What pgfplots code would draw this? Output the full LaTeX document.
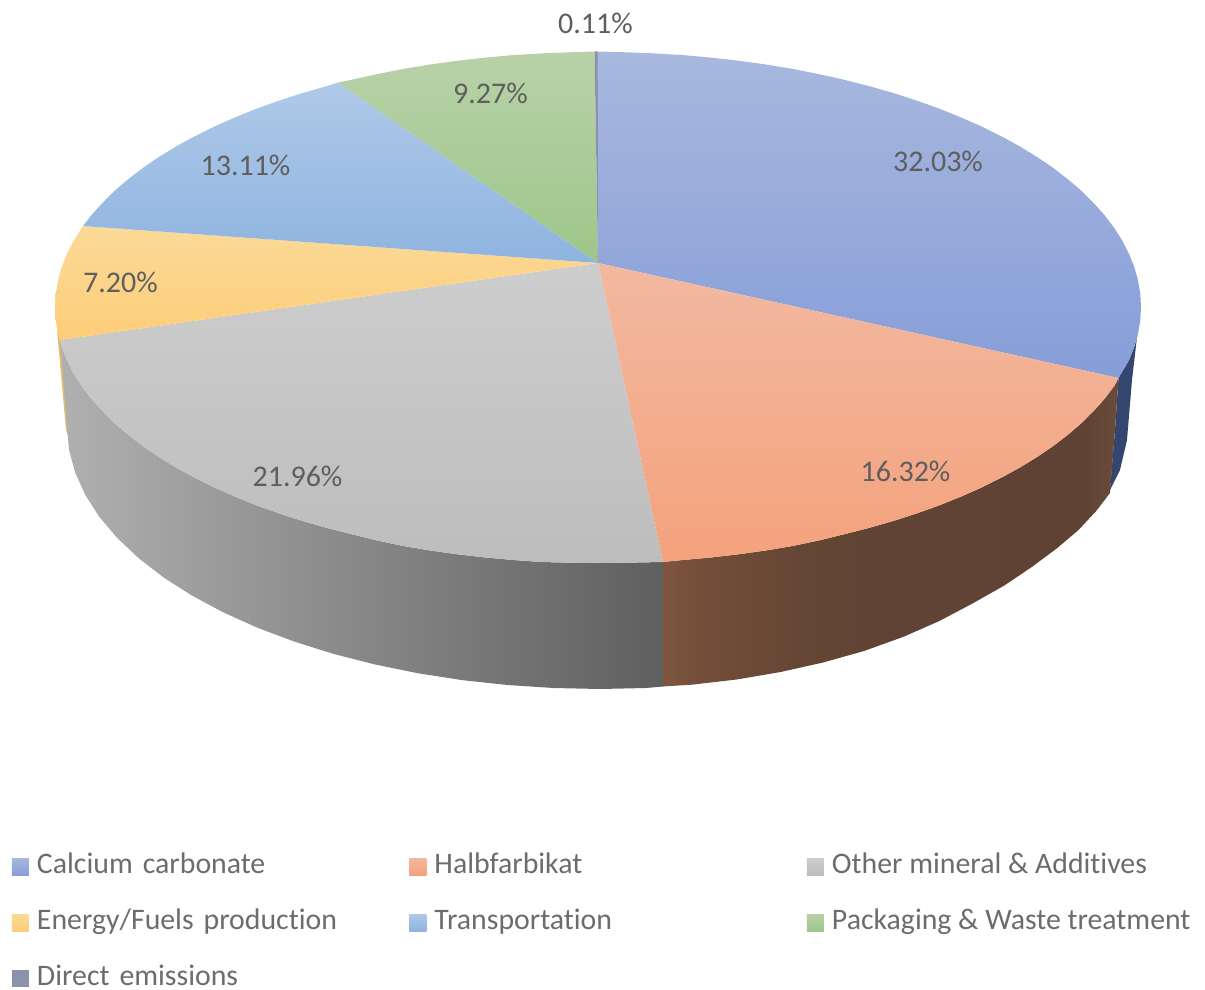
\documentclass[border=0pt]{standalone}
\usepackage{fontspec}
\setmainfont{Carlito}[Ligatures=NoCommon]
\usepackage{pgfplots}
\pgfplotsset{compat=1.18}
\definecolor{cCal}{HTML}{97A9DB}
\definecolor{cHal}{HTML}{F4AE8F}
\definecolor{cOth}{HTML}{C6C6C6}
\definecolor{cEne}{HTML}{FCD387}
\definecolor{cTra}{HTML}{9DBEE4}
\definecolor{cPac}{HTML}{A5CB93}
\definecolor{cDir}{HTML}{8A93AB}
\definecolor{cLab}{HTML}{5E5E5E}
\definecolor{cLeg}{HTML}{6C6C6C}
\definecolor{calT}{HTML}{A8B8DE}\definecolor{calB}{HTML}{869DD8}
\definecolor{halT}{HTML}{F2B9A1}\definecolor{halB}{HTML}{F4A27C}
\definecolor{othT}{HTML}{CDCDCD}\definecolor{othB}{HTML}{BDBDBD}
\definecolor{eneT}{HTML}{FBDA98}\definecolor{eneB}{HTML}{FDCD78}
\definecolor{traT}{HTML}{AFC9E8}\definecolor{traB}{HTML}{8FB4E0}
\definecolor{pacT}{HTML}{B8D2A8}\definecolor{pacB}{HTML}{9DC68A}
\pgfdeclarehorizontalshading{brownside}{100bp}{
  rgb(0bp)=(0.502,0.337,0.247);
  rgb(25bp)=(0.502,0.337,0.247);
  rgb(29bp)=(0.455,0.306,0.224);
  rgb(40bp)=(0.396,0.275,0.204);
  rgb(51bp)=(0.376,0.263,0.208);
  rgb(71bp)=(0.373,0.259,0.200);
  rgb(75bp)=(0.416,0.298,0.231);
  rgb(100bp)=(0.416,0.298,0.231)}
\pgfdeclarehorizontalshading{greyside}{100bp}{
  rgb(0bp)=(0.690,0.690,0.690);
  rgb(25bp)=(0.690,0.690,0.690);
  rgb(30bp)=(0.660,0.660,0.660);
  rgb(50bp)=(0.530,0.530,0.530);
  rgb(75bp)=(0.373,0.373,0.373);
  rgb(100bp)=(0.373,0.373,0.373)}
\newcommand{\sq}[1]{\fill[#1] (0pt,-8.5pt) rectangle (17pt,8.5pt);}
\begin{document}
\begin{tikzpicture}
\path[use as bounding box] (0,0) rectangle (1205pt,990pt);
\begin{axis}[
  at={(0,0)}, anchor=south west,
  width=1205pt, height=990pt, scale only axis,
  hide axis, xmin=0, xmax=1205, ymin=0, ymax=990, y dir=reverse,
  clip=false,
  legend columns=3,
  legend cell align=left,
  legend style={
    draw=none, fill=none, at={(axis cs:12,853)}, anchor=north west,
    inner sep=0pt, outer sep=0pt,
    font=\fontsize{29.8}{32}\selectfont, text=cLeg,
    row sep=29pt,
    /tikz/every even column/.append style={column sep=0pt},
    nodes={inner sep=0pt, outer sep=0pt, text height=20pt, text depth=7pt},
    /tikz/column 1/.style={column sep=8pt},
    /tikz/column 3/.style={column sep=8pt},
    /tikz/column 5/.style={column sep=8pt},
    /tikz/column 2/.append style={nodes={text width=372.5pt}},
    /tikz/column 4/.append style={nodes={text width=372.5pt}},
  },
]
% side walls
\addplot[forget plot, draw=none, fill={rgb,255:red,226;green,190;blue,110}] coordinates {(57,330) (61,340) (69,438) (66,430) (57,330)};
\addplot[forget plot, draw=none, fill={rgb,255:red,52;green,70;blue,111}] coordinates {
 (1118.5,378) (1129.1,360) (1134.3,346.9) (1138,334) (1137,337) (1132,380) (1127,440) (1120,470) (1110,490) (1115,430) (1118.5,378)};
\addplot[forget plot, draw=none, shade, shading=brownside] coordinates {
 (662,562) (682.9,560) (710.9,557.5) (738.5,554.3) (765.8,550.5) (792.6,546) (818.8,540.5) (844.5,534.2) (869.5,527.8) (893.7,520.9) (917.2,513.3)
 (939.7,505.2) (961.3,496.5) (982,487.3) (1001.5,477.6) (1020,467.5) (1037.3,456.9) (1053.4,445.9) (1068.2,434.5) (1081.8,422.8) (1094,410.7)
 (1104.9,398.4) (1114.4,385.8) (1118.5,378) (1115,430) (1110,493)
 (1096.2,511) (1078.5,530) (1057.3,548) (1032.5,566.5) (1004.5,585.4) (973.4,603) (939.4,621) (902.9,637) (864,651) (823.1,662.5)
 (780.6,672) (736.7,679.5) (691.7,684.7) (662,686.5) (662,562)};
\addplot[forget plot, draw=none, shade, shading=greyside] coordinates {
 (60,340) (61.7,346.9) (66.9,360) (73.5,373) (81.6,385.8) (91.1,398.4) (102,410.7) (114.2,422.8) (127.8,434.5) (142.6,445.9) (158.7,456.9)
 (176,467.5) (194.5,477.6) (214,487.3) (234.7,496.5) (256.3,505.2) (278.8,513.3) (302.3,520.9) (326.5,527.8) (351.5,534.2) (377.2,540.5)
 (403.4,546) (430.2,550.5) (457.5,554.3) (485.1,557.5) (513.1,560) (541.3,562) (569.6,562.7) (598,563) (626.4,562.7) (663,562)
 (663,686.5) (646,688) (600,689) (553.5,688) (507.4,685) (462,680.1) (417.7,673.2) (374.7,664.4) (333.5,653.9) (294.3,641.6) (257.4,627.7)
 (223.1,612.3) (191.7,595.4) (163.4,577.3) (138.4,558) (117,537.7) (99.1,516.6) (85.2,494.8) (75.1,472.5) (69,449.8) (67,427) (60,340)};
% top slices
\addplot[draw=none, shade, top color=calT, bottom color=calB, legend image code/.code={\sq{cCal}}] coordinates {
 (598,263) (597.7,51.5) (626.4,52.3) (654.7,53.4) (682.9,55.1) (710.9,57.6) (738.5,60.7) (765.8,64.5) (792.6,68.9) (818.8,74.1) (844.5,79.8)
 (869.5,86.2) (893.7,93.1) (917.2,100.7) (939.7,108.8) (961.3,117.5) (982,126.7) (1001.5,136.4) (1020,146.5) (1037.3,157.1) (1053.4,168.1)
 (1068.2,179.5) (1081.8,191.2) (1094,203.3) (1104.9,215.6) (1114.4,228.2) (1122.5,241) (1129.1,254) (1134.3,267.1) (1138,280.4) (1140.3,293.7)
 (1141,307) (1140.3,320.3) (1138,333.6) (1134.3,346.9) (1129.1,360) (1118.5,378) (598,263)};
\addlegendentry{Calcium carbonate}
\addplot[draw=none, shade, top color=halT, bottom color=halB, legend image code/.code={\sq{cHal}}] coordinates {
 (598,263) (1118.5,378) (1114.4,385.8) (1104.9,398.4) (1094,410.7) (1081.8,422.8) (1068.2,434.5) (1053.4,445.9) (1037.3,456.9) (1020,467.5)
 (1001.5,477.6) (982,487.3) (961.3,496.5) (939.7,505.2) (917.2,513.3) (893.7,520.9) (869.5,527.8) (844.5,534.2) (818.8,540.5) (792.6,546)
 (765.8,550.5) (738.5,554.3) (710.9,557.5) (682.9,560) (663,562) (598,263)};
\addlegendentry{Halbfarbikat}
\addplot[draw=none, shade, top color=othT, bottom color=othB, legend image code/.code={\sq{cOth}}] coordinates {
 (598,263) (663,562) (626.4,562.7) (598,563) (569.6,562.7) (541.3,562) (513.1,560) (485.1,557.5) (457.5,554.3) (430.2,550.5) (403.4,546)
 (377.2,540.5) (351.5,534.2) (326.5,527.8) (302.3,520.9) (278.8,513.3) (256.3,505.2) (234.7,496.5) (214,487.3) (194.5,477.6) (176,467.5)
 (158.7,456.9) (142.6,445.9) (127.8,434.5) (114.2,422.8) (102,410.7) (91.1,398.4) (81.6,385.8) (73.5,373) (66.9,360) (61.7,346.9) (60,340) (598,263)};
\addlegendentry{Other mineral \& Additives}
\addplot[draw=none, shade, top color=eneT, bottom color=eneB, legend image code/.code={\sq{cEne}}] coordinates {
 (598,263) (60,340) (58,333.6) (55.7,320.3) (55,307) (55.7,293.7) (58,280.4) (61.7,267.1) (66.9,254) (73.5,241) (83,226) (598,263)};
\addlegendentry{Energy/Fuels production}
\addplot[draw=none, shade, top color=traT, bottom color=traB, legend image code/.code={\sq{cTra}}] coordinates {
 (598,263) (83,226) (91.1,215.6) (102,203.3) (114.2,191.2) (127.8,179.5) (142.6,168.1) (158.7,157.1) (176,146.5) (194.5,136.4) (214,126.7)
 (234.7,117.5) (256.3,108.8) (278.8,100.7) (302.3,93.1) (326.5,86.2) (338,82.5) (598,263)};
\addlegendentry{Transportation}
\addplot[draw=none, shade, top color=pacT, bottom color=pacB, legend image code/.code={\sq{cPac}}] coordinates {
 (598,263) (338,82.5) (351.5,79.8) (377.2,74.1) (403.4,68.9) (430.2,64.5) (457.5,60.7) (485.1,57.6) (513.1,55.1) (541.3,53.4) (569.6,52.3) (594.5,51.5) (598,263)};
\addlegendentry{Packaging \& Waste treatment}
\addplot[draw=none, fill=cDir, legend image code/.code={\sq{cDir}}] coordinates {
 (598,263) (594.5,51.5) (597.7,51.5) (598,263)};
\addlegendentry{Direct emissions}
% labels
\begin{scope}[every node/.style={font=\fontsize{30}{32}\selectfont, text=cLab, inner sep=0pt}]
\node at (axis cs:595.5,23) {0.11\%};
\node at (axis cs:938,161) {32.03\%};
\node at (axis cs:905.5,471) {16.32\%};
\node at (axis cs:297.5,476) {21.96\%};
\node at (axis cs:120.5,282) {7.20\%};
\node at (axis cs:245.5,165) {13.11\%};
\node at (axis cs:490.5,93) {9.27\%};
\end{scope}
\end{axis}
\end{tikzpicture}
\end{document}
